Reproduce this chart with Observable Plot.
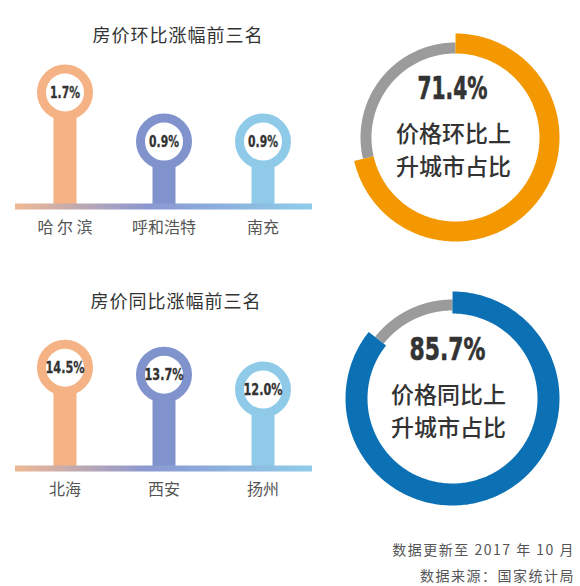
<!DOCTYPE html>
<html>
<head>
<meta charset="utf-8">
<script src="https://cdn.jsdelivr.net/npm/d3@7"></script>
<script src="https://cdn.jsdelivr.net/npm/@observablehq/plot@0.6"></script>
<style>
  html, body { margin: 0; padding: 0; background: #fff; }
  #wrap { position: relative; width: 580px; height: 586px; background: #fff; overflow: hidden;
          font-family: "Noto Sans CJK SC", "Noto Sans", sans-serif; }
  .abs { position: absolute; }
  .title { font-size: 18px; line-height: 20px; color: #333; letter-spacing: 1px; text-align: center; white-space: nowrap; }
  .foot { font-size: 14px; line-height: 20px; color: #555; letter-spacing: 1.5px; text-align: right; white-space: nowrap; right: 5px; }
</style>
</head>
<body>
<div id="wrap"></div>
<script>
// ---------- data ----------
const title1 = "房价环比涨幅前三名";
const cities1 = ["哈 尔 滨", "呼和浩特", "南充"];
const values1 = [1.7, 0.9, 0.9];

const title2 = "房价同比涨幅前三名";
const cities2 = ["北海", "西安", "扬州"];
const values2 = [14.5, 13.7, 12.0];

const lolliColors = ["#f5b284", "#8193cd", "#8fcbe9"];

const shares = [71.4, 85.7];
const shareColors = ["#f39800", "#0c70b4"];
const shareLine1 = ["价格环比上", "价格同比上"];
const shareLine2 = ["升城市占比", "升城市占比"];
const restColor = "#9b9b9b";

const footLines = ["数据更新至 2017 年 10 月", "数据来源：国家统计局"];

// ---------- helpers ----------
const wrap = document.getElementById("wrap");
function place(el, left, top, squeeze) {
  el.style.position = "absolute";
  el.style.left = left + "px";
  el.style.top = top + "px";
  el.dataset.squeeze = squeeze;
  wrap.appendChild(el);
}
function addDiv(cls, text, style) {
  const d = document.createElement("div");
  d.className = "abs " + cls;
  d.textContent = text;
  Object.assign(d.style, style);
  wrap.appendChild(d);
}

const narrow = "'DejaVu Sans Condensed', 'Liberation Sans Narrow', sans-serif";
const cjk = "'Noto Sans CJK SC', sans-serif";

function lollipop(cities, values, yDomain, gradId) {
  const data = cities.map((c, i) => ({city: c, value: values[i]}));
  const defs = (index, scales, vals, dim) => {
    const d = d3.create("svg:defs");
    const g = d.append("linearGradient").attr("id", gradId)
      .attr("gradientUnits", "userSpaceOnUse")
      .attr("x1", dim.marginLeft).attr("x2", dim.width - dim.marginRight)
      .attr("y1", 0).attr("y2", 0);
    g.append("stop").attr("offset", "0%").attr("stop-color", "#efb893");
    g.append("stop").attr("offset", "45%").attr("stop-color", "#8a98d2");
    g.append("stop").attr("offset", "100%").attr("stop-color", "#8fcdea");
    return d.node();
  };
  return Plot.plot({
    width: 330, height: 250,
    marginLeft: 15, marginRight: 18, marginTop: 49, marginBottom: 44,
    style: {fontFamily: cjk, background: "transparent", overflow: "visible"},
    x: {type: "band", domain: cities, padding: 0, axis: null},
    y: {domain: yDomain, axis: null},
    color: {type: "ordinal", domain: cities, range: lolliColors},
    marks: [
      defs,
      Plot.ruleX(data, {x: "city", y1: yDomain[0], y2: "value", stroke: "city", strokeWidth: 23}),
      Plot.ruleY([yDomain[0]], {stroke: `url(#${gradId})`, strokeWidth: 6}),
      Plot.dot(data, {x: "city", y: "value", r: 23.5, fill: "white", stroke: "city", strokeWidth: 9}),
      Plot.text(data, {x: "city", y: "value", text: d => d.value.toFixed(1) + "%",
        fontSize: 16, fontWeight: "bold", fontFamily: narrow, fill: "#333", stroke: "#333", strokeWidth: 0.3}),
      Plot.axisX({tickSize: 0, tickPadding: 15, fontSize: 16, color: "#555", label: null, fontFamily: cjk})
    ]
  });
}

function donut(share, color, r, w, grayR, grayW, line1, line2, dx) {
  const n = 300;
  const f = share / 100;
  const arc = d3.range(n + 1).map(i => {
    const a = (i / n) * f * 2 * Math.PI;
    return {x: r * Math.sin(a), y: r * Math.cos(a)};
  });
  const rest = d3.range(n + 1).map(i => {
    const a = (f + (i / n) * (1 - f)) * 2 * Math.PI;
    return {x: grayR * Math.sin(a), y: grayR * Math.cos(a)};
  });
  return Plot.plot({
    width: 240, height: 240, margin: 0,
    style: {fontFamily: cjk, background: "transparent", overflow: "visible"},
    x: {domain: [-1.2, 1.2], axis: null},
    y: {domain: [-1.2, 1.2], axis: null},
    marks: [
      Plot.line(rest, {x: "x", y: "y", stroke: restColor, strokeWidth: grayW, strokeLinecap: "butt"}),
      Plot.line(arc, {x: "x", y: "y", stroke: color, strokeWidth: w, strokeLinecap: "butt"}),
      Plot.text([share.toFixed(1) + "%"], {frameAnchor: "middle", text: d => d, dx: dx, dy: -49,
        fontSize: 32, fontWeight: "bold", fontFamily: narrow, fill: "#333", stroke: "#333", strokeWidth: 0.6}),
      Plot.text([line1], {frameAnchor: "middle", text: d => d, dx: dx + 1, dy: -3,
        fontSize: 23, fontWeight: 500, fontFamily: cjk, fill: "#333"}),
      Plot.text([line2], {frameAnchor: "middle", text: d => d, dx: dx + 1, dy: 30,
        fontSize: 23, fontWeight: 500, fontFamily: cjk, fill: "#333"})
    ]
  });
}

// ---------- layout ----------
addDiv("title", title1, {left: "78px", top: "24px", width: "200px"});
addDiv("title", title2, {left: "76px", top: "290px", width: "200px"});

place(lollipop(cities1, values1, [-0.16, 2.4], "grad1"), 0, 0, 0.75);
place(lollipop(cities2, values2, [3, 20.9], "grad2"), 0, 262, 0.78);

place(donut(shares[0], shareColors[0], 0.94, 20, 0.895, 11, shareLine1[0], shareLine2[0], -3), 335, 17, 0.7);
place(donut(shares[1], shareColors[1], 0.96, 22, 0.935, 11, shareLine1[1], shareLine2[1], -5), 332, 278, 0.76);

addDiv("foot", footLines[0], {top: "539px"});
addDiv("foot", footLines[1], {top: "565px"});

// condense the percentage labels (the reference uses a condensed bold face)
wrap.querySelectorAll("svg").forEach(svg => {
  const k = +svg.dataset.squeeze;
  if (!k) return;
  svg.querySelectorAll("text").forEach(t => {
    if (!/%$/.test(t.textContent)) return;
    const len = t.getComputedTextLength();
    t.setAttribute("textLength", (len * k).toFixed(1));
    t.setAttribute("lengthAdjust", "spacingAndGlyphs");
  });
});
</script>
</body>
</html>
